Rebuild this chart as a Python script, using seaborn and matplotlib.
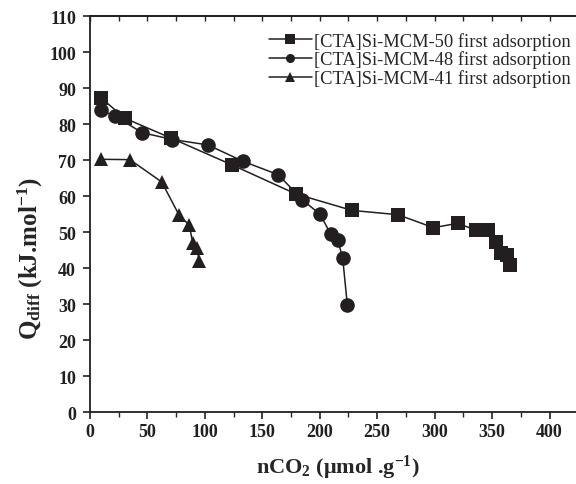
import matplotlib
matplotlib.use("Agg")
import matplotlib.pyplot as plt
import seaborn as sns
import pandas as pd
from matplotlib.ticker import MultipleLocator
from matplotlib.lines import Line2D

# ---- data ----
x_mcm50 = [9.6, 30.5, 70.6, 124, 179, 228, 268, 299, 320, 336, 346, 353, 358, 363, 365.4]
y_mcm50 = [87.4, 81.7, 76.2, 68.7, 60.7, 56.1, 54.9, 51.3, 52.5, 50.6, 50.6, 47.2, 44.2, 43.8, 41.0]

x_mcm48 = [9.3, 21.5, 45.6, 71.7, 102.6, 133.6, 164, 185, 200.4, 209.7, 215.8, 220, 224]
y_mcm48 = [84.0, 82.3, 77.7, 75.8, 74.3, 69.7, 66.0, 59.0, 55.0, 49.4, 47.8, 42.8, 29.9]

x_mcm41 = [9.6, 34.9, 62.5, 77.8, 86.5, 89.5, 93, 95.3]
y_mcm41 = [70.3, 70.2, 64.0, 54.7, 52.0, 47.1, 45.7, 41.9]

labels = ["[CTA]Si-MCM-50 first adsorption",
          "[CTA]Si-MCM-48 first adsorption",
          "[CTA]Si-MCM-41 first adsorption"]
markers = ["s", "o", "^"]

x_ticks = [0, 50, 100, 150, 200, 250, 300, 350, 400]
y_ticks = [0, 10, 20, 30, 40, 50, 60, 70, 80, 90, 100, 110]

series = [(x_mcm50, y_mcm50), (x_mcm48, y_mcm48), (x_mcm41, y_mcm41)]

sns.set_theme(style="ticks")
plt.rcParams['font.family'] = ['Liberation Serif', 'DejaVu Serif']
plt.rcParams['mathtext.fontset'] = 'custom'
plt.rcParams['mathtext.rm'] = 'Liberation Serif:bold'
plt.rcParams['mathtext.bf'] = 'Liberation Serif:bold'
plt.rcParams['mathtext.it'] = 'Liberation Serif:bold'

fig = plt.figure(figsize=(5.76, 4.85), dpi=100)
ax = fig.add_axes([0.156, 0.148, 0.854, 0.816])

frames = []
for (xs, ys), lab in zip(series, labels):
    frames.append(pd.DataFrame({"x": xs, "y": ys, "series": lab}))
df = pd.concat(frames, ignore_index=True)

for lab, mk in zip(labels, markers):
    sub = df[df["series"] == lab]
    sns.lineplot(data=sub, x="x", y="y", ax=ax, sort=False, color="#231f20",
                 linewidth=1.1, marker=mk, markersize=10.5 if mk != "s" else 9.5,
                 markeredgewidth=0, markerfacecolor="#231f20", legend=False)

ax.set_xlim(0, 428)
ax.set_ylim(0, 110)
ax.set_xticks(x_ticks)
ax.set_yticks(y_ticks)
ax.xaxis.set_minor_locator(MultipleLocator(25))

for s in ["left", "bottom", "top"]:
    ax.spines[s].set_linewidth(1.3)
    ax.spines[s].set_color("#231f20")
ax.spines["right"].set_visible(False)

ax.tick_params(axis="both", which="major", direction="out", length=5, width=1.2,
               colors="#231f20", labelsize=13)
ax.tick_params(axis="x", which="minor", direction="out", length=3.5, width=1.0)
ax.tick_params(axis="x", which="major", pad=3)
ax.tick_params(axis="y", which="major", pad=5)
for lbl in ax.get_xticklabels() + ax.get_yticklabels():
    lbl.set_fontweight("bold")

# top ticks point inward
sec = ax.secondary_xaxis("top")
sec.set_xticks(x_ticks)
sec.xaxis.set_minor_locator(MultipleLocator(25))
sec.tick_params(which="both", direction="in", length=3.5, width=1.0, labeltop=False)
sec.spines["top"].set_linewidth(1.3)
ax.tick_params(axis="x", which="both", top=False)

ax.set_xlabel("nCO$_{2}$ (μmol .g$^{-1}$)", fontsize=16, fontweight="bold")
ax.set_ylabel("Q$_{diff}$ (kJ.mol$^{-1}$)", fontsize=18, fontweight="bold")
ax.yaxis.set_label_coords(-0.092, 0.39)
ax.xaxis.set_label_coords(0.505, -0.103)

handles = [Line2D([0], [0], color="#231f20", lw=1.1, marker=m, markersize=6.5,
                  markeredgewidth=0) for m in markers]
leg = ax.legend(handles, labels, loc="upper right", frameon=False, fontsize=13.3,
                handlelength=2.3, handletextpad=0.15, labelspacing=0.05,
                bbox_to_anchor=(0.993, 0.98), borderaxespad=0.0)

fig.savefig("out.png", dpi=100)
